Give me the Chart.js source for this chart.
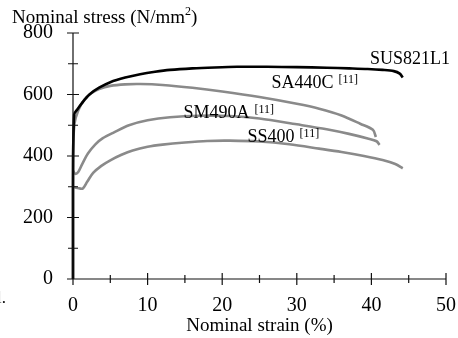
<!DOCTYPE html>
<html>
<head>
<meta charset="utf-8">
<script src="https://cdn.jsdelivr.net/npm/chart.js@4"></script>
<style>
  html, body { margin: 0; padding: 0; background: #fff; }
  #wrap { width: 458px; height: 338px; position: relative; }
</style>
</head>
<body>
<div id="wrap"><canvas id="chart" width="458" height="338"></canvas></div>
<script>
// stress-strain curves, strain in %, stress in N/mm2
const susStrain = [0, 0, 0.15, 0.6, 1.2, 2.2, 3.5, 5, 7, 9, 11, 13, 16, 19, 22, 26, 30, 34, 37, 39.5, 41.5, 43, 43.8, 44.2];
const susStress = [0, 300, 535, 552, 572, 600, 622, 640, 655, 666, 674, 680, 685, 688, 690, 690, 689, 687, 685, 683, 680, 676, 668, 655];

const sa440Strain = [0, 0, 0.2, 0.7, 1.5, 2.5, 3.5, 5, 7, 9, 12, 16, 20, 25, 30, 33, 36, 38.5, 40.2, 40.6];
const sa440Stress = [0, 400, 505, 548, 583, 605, 618, 628, 633, 634, 631, 622, 610, 592, 570, 554, 532, 505, 485, 462];

const sm490Strain = [0, 0.3, 0.7, 1.2, 2, 3, 4, 5.5, 7.5, 10, 13, 17, 21, 25, 30, 34, 37, 39.5, 40.7, 41.1];
const sm490Stress = [352, 342, 348, 372, 408, 438, 458, 477, 500, 516, 526, 531, 530, 522, 503, 487, 472, 457, 448, 436];

const ss400Strain = [0, 0.6, 1.3, 1.9, 2.7, 3.8, 5, 6.5, 8, 10, 12, 15, 18, 21, 25, 29, 33, 36, 39, 41.5, 43.2, 44.2];
const ss400Stress = [300, 296, 294, 316, 345, 368, 386, 404, 418, 430, 437, 444, 449, 450, 447, 438, 424, 413, 400, 387, 374, 360];

const xTicks = [0, 10, 20, 30, 40, 50];
const yTicks = [0, 200, 400, 600, 800];

const curveLabels = [
  { text: 'SUS821L1', ref: '', x: 39.8, y: 698 },
  { text: 'SA440C', ref: '[11]', x: 26.6, y: 620 },
  { text: 'SM490A', ref: '[11]', x: 14.8, y: 525 },
  { text: 'SS400', ref: '[11]', x: 23.4, y: 446 }
];

const serif = '"Liberation Serif", "Times New Roman", serif';

function pts(xs, ys) {
  return xs.map((x, i) => ({ x: x, y: ys[i] }));
}

function curve(label, xs, ys, color) {
  return {
    label: label,
    data: pts(xs, ys),
    borderColor: color,
    borderWidth: 2.6,
    pointRadius: 0,
    tension: 0.3,
    showLine: true,
    fill: false,
    clip: false
  };
}

// axis lines, ticks that cross the axis, and the text labels
const decor = {
  id: 'decor',
  afterDatasetsDraw(chart) {
    const ctx = chart.ctx;
    const xs = chart.scales.x, ys = chart.scales.y;
    const x0 = xs.getPixelForValue(0), x1 = xs.getPixelForValue(50);
    const y0 = ys.getPixelForValue(0), y1 = ys.getPixelForValue(800);
    ctx.save();
    ctx.strokeStyle = '#111';
    ctx.lineWidth = 1.2;
    ctx.beginPath();
    ctx.moveTo(x0, y1); ctx.lineTo(x0, y0);
    ctx.moveTo(x0, y0); ctx.lineTo(x1, y0);
    for (let v = 0; v <= 800; v += 100) {
      const p = ys.getPixelForValue(v);
      const h = v % 200 === 0 ? 6 : 5;
      ctx.moveTo(x0 - h, p); ctx.lineTo(x0 + h, p);
    }
    for (let v = 0; v <= 50; v += 5) {
      const p = xs.getPixelForValue(v);
      const h = v % 10 === 0 ? 6 : 4;
      ctx.moveTo(p, y0 - h); ctx.lineTo(p, y0 + h);
    }
    ctx.stroke();

    ctx.fillStyle = '#000';
    ctx.textBaseline = 'alphabetic';
    ctx.textAlign = 'left';
    curveLabels.forEach(l => {
      const px = xs.getPixelForValue(l.x), py = ys.getPixelForValue(l.y);
      ctx.font = '18px ' + serif;
      ctx.fillText(l.text, px, py);
      if (l.ref) {
        const w = ctx.measureText(l.text).width;
        ctx.font = '12px ' + serif;
        ctx.fillText(l.ref, px + w + 5, py - 5);
      }
    });

    // y axis title with superscript
    ctx.font = '19px ' + serif;
    const t1 = 'Nominal stress (N/mm';
    ctx.fillText(t1, 12, 23);
    const w1 = ctx.measureText(t1).width;
    ctx.font = '12px ' + serif;
    ctx.fillText('2', 12 + w1, 15);
    ctx.font = '19px ' + serif;
    ctx.fillText(')', 12 + w1 + 6, 23);

    ctx.textAlign = 'center';
    ctx.fillText('Nominal strain (%)', (x0 + x1) / 2, 331);

    ctx.textAlign = 'left';
    ctx.font = '17px ' + serif;
    ctx.fillText('l.', -3, 303);
    ctx.restore();
  }
};

new Chart(document.getElementById('chart'), {
  type: 'scatter',
  data: {
    datasets: [
      curve('SUS821L1', susStrain, susStress, '#000'),
      curve('SA440C', sa440Strain, sa440Stress, '#8a8a8a'),
      curve('SM490A', sm490Strain, sm490Stress, '#8a8a8a'),
      curve('SS400', ss400Strain, ss400Stress, '#8a8a8a')
    ]
  },
  options: {
    responsive: false,
    animation: false,
    layout: { padding: { top: 33, right: 12, left: 0, bottom: 0 } },
    plugins: { legend: { display: false }, tooltip: { enabled: false } },
    scales: {
      x: {
        type: 'linear',
        min: 0, max: 50,
        afterFit: s => { s.height = 59; s.paddingLeft = 0; s.paddingRight = 0; },
        afterBuildTicks: s => { s.ticks = xTicks.map(v => ({ value: v })); },
        grid: { display: false, drawTicks: false },
        border: { display: false },
        ticks: { color: '#000', font: { family: serif, size: 20 }, padding: 15, maxRotation: 0 }
      },
      y: {
        type: 'linear',
        min: 0, max: 800,
        afterFit: s => { s.width = 73; s.paddingTop = 0; s.paddingBottom = 0; },
        afterBuildTicks: s => { s.ticks = yTicks.map(v => ({ value: v })); },
        grid: { display: false, drawTicks: false },
        border: { display: false },
        ticks: { color: '#000', font: { family: serif, size: 20 }, padding: 20 }
      }
    }
  },
  plugins: [decor]
});
</script>
</body>
</html>
